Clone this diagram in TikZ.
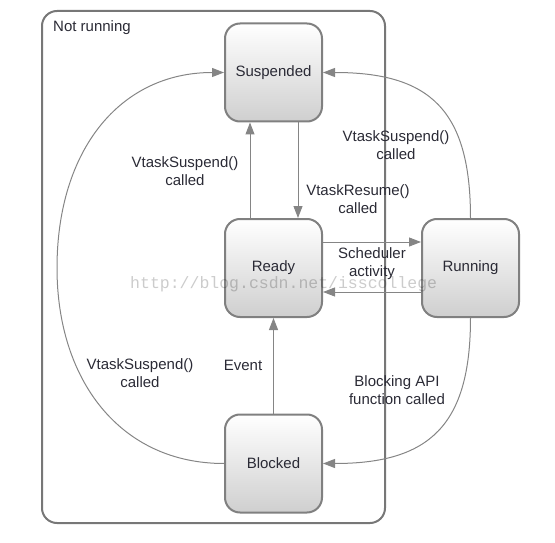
\documentclass[tikz,border=0pt]{standalone}
\usepackage{fontspec}
\setmainfont{Liberation Sans}
\newfontfamily\wmfont{Liberation Mono}
\usetikzlibrary{arrows.meta}
\definecolor{boxline}{HTML}{808080}
\definecolor{frameline}{HTML}{777777}
\definecolor{arrowgray}{HTML}{858585}
\definecolor{txt}{HTML}{2A2A35}
\definecolor{boxbot}{HTML}{CFCFCF}
\tikzset{
  statebox/.style={draw=boxline, line width=2pt, rounded corners=15pt,
    top color=white, bottom color=boxbot, minimum width=97pt, minimum height=98pt,
    font=\fontsize{15}{17}\selectfont, text=txt},
  conn/.style={draw=arrowgray, line width=1pt, -{Triangle[length=12pt,width=9pt]}},
  lbl/.style={font=\fontsize{15}{18}\selectfont, text=txt, align=center, inner sep=0pt}
}
\begin{document}
\begin{tikzpicture}[x=1pt,y=-1pt]
\useasboundingbox (0,0) rectangle (555,543);
% outer frame
\draw[frameline, line width=2pt, rounded corners=15pt] (42,11) rectangle (385,523);
\node[lbl, anchor=base west] (nr) at (53,32) {Not running};
% states
\node[statebox] (susp) at (273.5,72.5) {Suspended};
\node[statebox] (ready) at (273.5,268) {Ready};
\node[statebox] (run) at (470.5,268) {Running};
\node[statebox] (blk) at (273.5,463.5) {Blocked};
% straight connectors
\draw[conn] (ready.south west |- ready.north) ++(26,0) coordinate (r1) -- (r1 |- susp.south);
\draw[conn] (susp.south west) ++(74,0) coordinate (s1) -- (s1 |- ready.north);
\draw[conn] (ready.north east) ++(0,24) coordinate (r2) -- (r2 -| run.west);
\draw[conn] (run.south west) ++(0,-26) coordinate (r3) -- (r3 -| ready.east);
\draw[conn] (blk.north) -- (ready.south);
% curved connectors
\draw[conn] (run.north) .. controls (470.5,110) and (430,72.5) .. (susp.east);
\draw[conn] (run.south) .. controls (470.5,425) and (430,463.5) .. (blk.east);
\draw[conn] (blk.west) .. controls (120,463.5) and (57,380) .. (57,268) coordinate (lft)
   .. controls (57,150) and (120,72.5) .. (susp.west);
% labels
\node[lbl] (l1) at (185,171) {VtaskSuspend()\\called};
\node[lbl] (l2) at (358,199) {VtaskResume()\\called};
\node[lbl] (l3) at (396,145) {VtaskSuspend()\\called};
\node[lbl] (l4) at (372,264) {Scheduler\\activity};
\node[lbl] (l5) at (243,365) {Event};
\node[lbl] (l6) at (140,373) {VtaskSuspend()\\called};
\node[lbl] (l7) at (397,390) {Blocking API\\function called};
% watermark
\node[anchor=base west, inner sep=0pt, font=\wmfont\fontsize{16.5}{18}\selectfont, text=black, opacity=0.2] (wm) at (130,288) {http://blog.csdn.net/isscollege};
\end{tikzpicture}
\end{document}
